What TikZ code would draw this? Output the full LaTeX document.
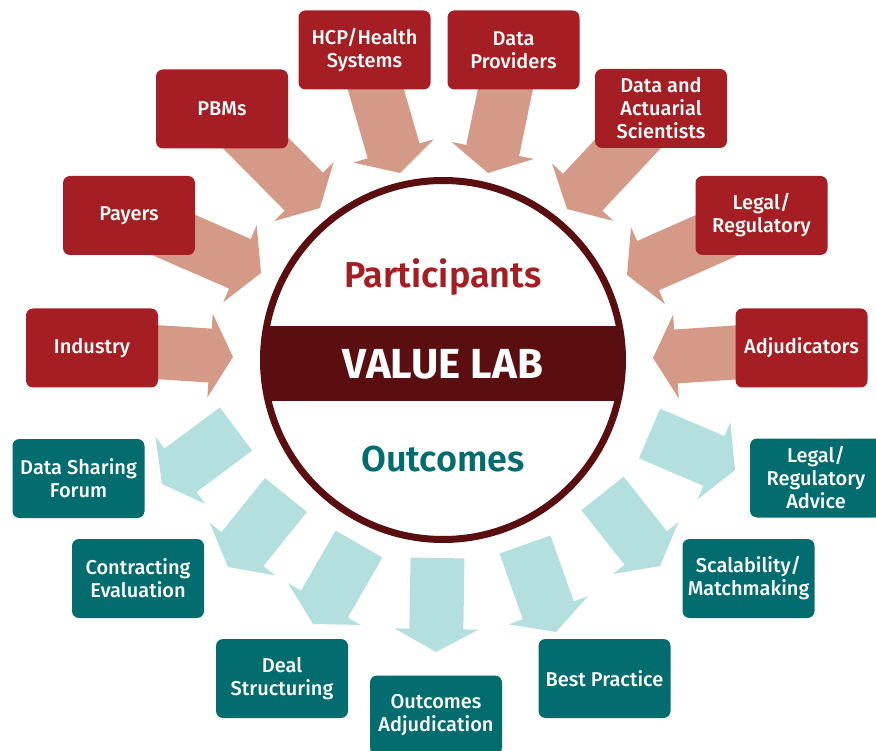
\documentclass[tikz,border=0pt]{standalone}
\usepackage{fontspec}
\setmainfont{Fira Sans}
\newfontfamily\boxfont{Fira Sans Medium}
\newfontfamily\headfont{Fira Sans SemiBold}
\usepackage{tikz}
\usetikzlibrary{calc,backgrounds}

\definecolor{boxred}{RGB}{164,30,35}
\definecolor{arrowred}{RGB}{212,154,135}
\definecolor{ringdark}{RGB}{90,14,15}
\definecolor{boxteal}{RGB}{2,108,111}
\definecolor{arrowteal}{RGB}{179,224,223}

% block arrow from #1 to #2 (tip), filled with #3
\newcommand{\blockarrow}[3]{%
    \coordinate (headbase) at ($(#2)!23pt!(#1)$);
    \fill[#3] ($(#1)!27pt!90:(#2)$) -- ($(headbase)!27pt!90:(#2)$)
        -- ($(headbase)!42pt!90:(#2)$) -- (#2)
        -- ($(headbase)!42pt!-90:(#2)$) -- ($(headbase)!27pt!-90:(#2)$)
        -- ($(#1)!27pt!-90:(#2)$) -- cycle;
}

\begin{document}
\begin{tikzpicture}[
            x=1pt, y=-1pt,
            redbox/.style={fill=boxred, rounded corners=7pt, minimum width=132pt, minimum height=79pt, text=white, align=center, font=\boxfont\fontsize{20}{23}\selectfont},
            tealbox/.style={redbox, fill=boxteal},
            inarrow/.style={fill=arrowred},
            outarrow/.style={fill=arrowteal}
        ]
        \useasboundingbox (0,0) rectangle (876,751);

        % Participants
        \node[redbox] (industry) at (92,348) {Industry};
        \node[redbox] (payers) at (129,215.5) {Payers};
        \node[redbox] (pbms) at (222,109) {PBMs};
        \node[redbox] (hcp) at (364.5,50) {HCP/Health\\Systems};
        \node[redbox] (providers) at (513.5,50) {Data\\Providers};
        \node[redbox] (actuarial) at (661,108.5) {Data and\\Actuarial\\Scientists};
        \node[redbox] (legal) at (761.5,215.5) {Legal/\\Regulatory};
        \node[redbox] (adjudicators) at (801.5,348) {Adjudicators};

        % Outcomes
        \node[tealbox] (sharing) at (78.5,478.5) {Data Sharing\\Forum};
        \node[tealbox] (contracting) at (138,578.5) {Contracting\\Evaluation};
        \node[tealbox] (deal) at (282,678.5) {Deal\\Structuring};
        \node[tealbox] (adjudication) at (436,715) {Outcomes\\Adjudication};
        \node[tealbox] (practice) at (604.5,678.5) {Best Practice};
        \node[tealbox] (scalability) at (748.5,578.5) {Scalability/\\Matchmaking};
        \node[tealbox] (advice) at (816,478) {Legal/\\Regulatory\\Advice};

        % arrow tips into the lab
        \coordinate (industry-tip) at (233,357);
        \coordinate (payers-tip) at (261,273);
        \coordinate (pbms-tip) at (320,208);
        \coordinate (hcp-tip) at (400,173);
        \coordinate (providers-tip) at (488,173);
        \coordinate (actuarial-tip) at (567,209);
        \coordinate (legal-tip) at (627,275);
        \coordinate (adjudicators-tip) at (653,358);

        % arrows out of the lab (tail, tip)
        \coordinate (sharing-tail) at (236,429);
        \coordinate (sharing-tip) at (162,484);
        \coordinate (contracting-tail) at (286,495);
        \coordinate (contracting-tip) at (228,567);
        \coordinate (deal-tail) at (359,544);
        \coordinate (deal-tip) at (313,624);
        \coordinate (adjudication-tail) at (437.5,558);
        \coordinate (adjudication-tip) at (436,652);
        \coordinate (practice-tail) at (525,544.5);
        \coordinate (practice-tip) at (556,632);
        \coordinate (scalability-tail) at (602.5,493.5);
        \coordinate (scalability-tip) at (660,566);
        \coordinate (advice-tail) at (649.5,433.5);
        \coordinate (advice-tip) at (735,470);

        \begin{scope}[on background layer]
            \foreach \p in {industry,payers,pbms,hcp,providers,actuarial,legal,adjudicators}
                {\blockarrow{\p}{\p-tip}{inarrow}}
        \end{scope}
        \foreach \q in {sharing,contracting,deal,adjudication,practice,scalability,advice}
            {\blockarrow{\q-tail}{\q-tip}{outarrow}}

        % Value lab circle with band
        \fill[white] (443,360) circle (179.5pt);
        \begin{scope}
            \clip (443,360) circle (179.5pt);
            \fill[ringdark] (250,326) rectangle (640,401);
        \end{scope}
        \node[circle, draw=ringdark, line width=7pt, minimum size=359pt, inner sep=0pt] (lab) at (443,360) {};

        \node[anchor=base, text=boxred, font=\headfont\fontsize{36}{40}\selectfont] (participants) at (443,288) {Participants};
        \node[anchor=base, text=white, font=\bfseries\fontsize{42}{46}\selectfont] (title) at (443,378) {VALUE LAB};
        \node[anchor=base, text=boxteal, font=\headfont\fontsize{36}{40}\selectfont] (outcomes) at (443,471) {Outcomes};

        \end{tikzpicture}
\end{document}
